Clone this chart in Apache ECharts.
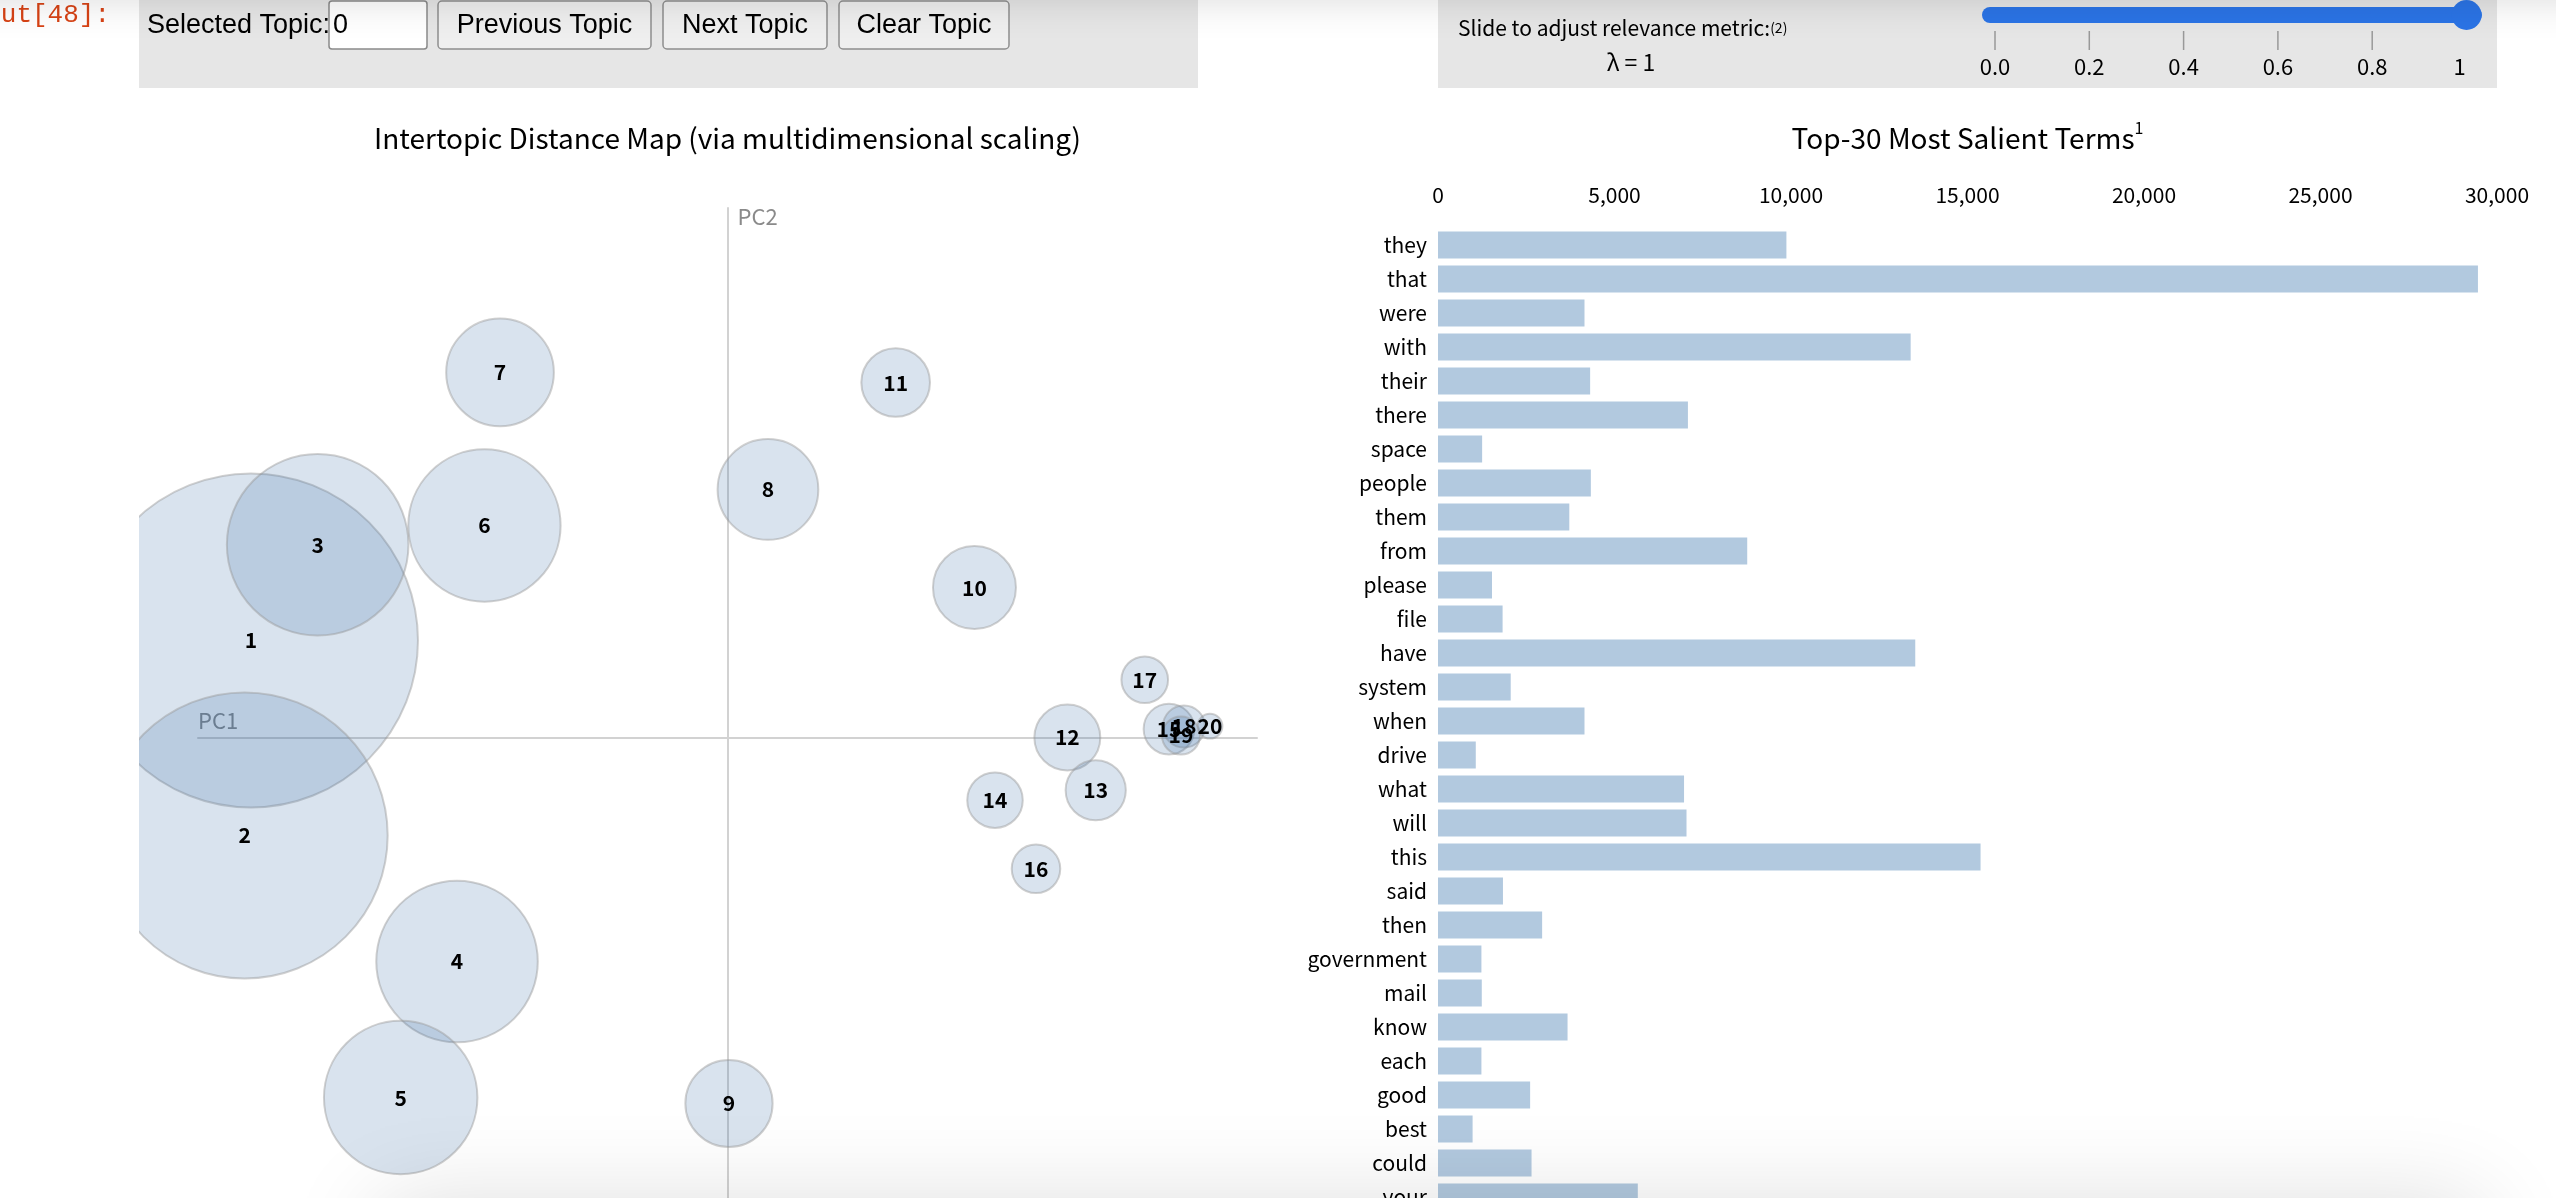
<!DOCTYPE html>
<html><head><meta charset="utf-8">
<script src="https://cdn.jsdelivr.net/npm/echarts@6/dist/echarts.min.js"></script>
<style>html,body{margin:0;padding:0;background:#fff;overflow:hidden}#c{width:2556px;height:1198px}</style>
</head><body><div id="c"></div><script>
// ---- data ----
const topicIds  = [1,2,3,4,5,6,7,8,9,10,11,12,13,14,15,16,17,18,19,20];
const topicPC1  = [-0.450,-0.456,-0.387,-0.2554,-0.3086,-0.2295,-0.2148,0.0382,0.0014,0.2332,0.1588,0.3209,0.3477,0.2526,0.4169,0.2913,0.3940,0.4310,0.4282,0.4556];
const topicPC2  = [0.0916,-0.0925,0.182,-0.2115,-0.340,0.2002,0.3447,0.2342,-0.3456,0.1416,0.3352,0.0,-0.0498,-0.0592,0.0080,-0.124,0.0545,0.0104,0.0019,0.0107];
const topicFreq = [30.8,22.6,9.1,7.2,6.5,6.4,3.2,2.8,2.1,1.9,1.3,1.2,1.0,0.85,0.71,0.65,0.60,0.49,0.40,0.17]; // % of tokens
const terms     = ['they','that','were','with','their','there','space','people','them','from','please','file','have','system','when','drive','what','will','this','said','then','government','mail','know','each','good','best','could','your'];
const termFreq  = [9870,29460,4150,13390,4310,7080,1250,4330,3720,8760,1530,1830,13520,2060,4150,1070,6970,7040,15370,1840,2950,1230,1240,3670,1230,2610,980,2650,5660];
const barTicks  = [0,5000,10000,15000,20000,25000,30000];
const sliderTicks = ['0.0','0.2','0.4','0.6','0.8','1'];
const buttonLabels = ['Previous Topic','Next Topic','Clear Topic'];

// ---- layout / style ----
const FONT = '"Noto Sans CJK KR","Noto Sans",sans-serif';
const UIFONT = '"Liberation Sans",Arial,sans-serif';
const MDS = {left:198, top:208, size:1059};
const BAR = {left:1438, top:228, width:1059, row:34};
const R_FULL = 0.2842 * MDS.size;
const BARCOL = '#b2c9df';
const BLUE = '#2b74e6';

const chart = echarts.init(document.getElementById('c'), null, {renderer:'canvas'});
const scatterData = topicIds.map((id,i)=>[topicPC1[i], topicPC2[i], topicFreq[i], id]);

const btnBoxes = [{x:438,w:213},{x:663,w:164},{x:839,w:170}];
const graphic = [];
// left control panel
graphic.push({type:'rect', z:1, shape:{x:139,y:0,width:1059,height:88}, style:{fill:'#e6e6e6'}});
graphic.push({type:'text', z:2, x:110, y:28, style:{text:'Out[48]:', font:'26px "Liberation Mono","DejaVu Sans Mono",monospace', fill:'#d84315', align:'right', textAlign:'right', verticalAlign:'bottom', textVerticalAlign:'bottom'}});
graphic.push({type:'text', z:2, x:147, y:26, style:{text:'Selected Topic:', font:'27px '+UIFONT, fill:'#000', verticalAlign:'middle', textVerticalAlign:'middle'}});
graphic.push({type:'rect', z:2, shape:{x:329,y:1,width:98,height:48,r:3}, style:{fill:'#fff', stroke:'#8a8a8a', lineWidth:1.5}});
graphic.push({type:'text', z:3, x:333, y:26, style:{text:'0', font:'27px '+UIFONT, fill:'#000', verticalAlign:'middle', textVerticalAlign:'middle'}});
buttonLabels.forEach((t,i)=>{
  const b = btnBoxes[i];
  graphic.push({type:'rect', z:2, shape:{x:b.x,y:1,width:b.w,height:48,r:4}, style:{fill:'#efefef', stroke:'#8f8f8f', lineWidth:1.5}});
  graphic.push({type:'text', z:3, x:b.x+b.w/2, y:26, style:{text:t, font:'27px '+UIFONT, fill:'#000', align:'center', textAlign:'center', verticalAlign:'middle', textVerticalAlign:'middle'}});
});
// right control panel
graphic.push({type:'rect', z:1, shape:{x:1438,y:0,width:1059,height:88}, style:{fill:'#e6e6e6'}});
graphic.push({type:'text', z:2, x:1458, y:28, style:{text:'{a|Slide to adjust relevance metric:}{b|(2)}', fill:'#000', verticalAlign:'middle', textVerticalAlign:'middle',
  rich:{a:{fontSize:21, fontFamily:FONT, fill:'#000', color:'#000'}, b:{fontSize:14, fontFamily:FONT, fill:'#000', color:'#000'}}}});
graphic.push({type:'text', z:2, x:1631, y:62, style:{text:'λ = 1', font:'23px '+FONT, fill:'#000', align:'center', textAlign:'center', verticalAlign:'middle', textVerticalAlign:'middle'}});
const sx = v => 1995 + v*471.5;
graphic.push({type:'rect', z:2, shape:{x:1982,y:7,width:500,height:16,r:8}, style:{fill:BLUE}});
graphic.push({type:'circle', z:3, shape:{cx:sx(1),cy:15,r:15}, style:{fill:BLUE}});
sliderTicks.forEach((t,i)=>{
  const v = i/5;
  if (i<5) graphic.push({type:'line', z:2, shape:{x1:sx(v),y1:31,x2:sx(v),y2:50}, style:{stroke:'#999', lineWidth:1.5}});
  graphic.push({type:'text', z:2, x: i<5 ? sx(v) : sx(v)-7, y:67, style:{text:t, font:'22px '+FONT, fill:'#000', align:'center', textAlign:'center', verticalAlign:'middle', textVerticalAlign:'middle'}});
});
// titles
graphic.push({type:'text', z:2, x:MDS.left+MDS.size/2, y:138, style:{text:'Intertopic Distance Map (via multidimensional scaling)', font:'28px '+FONT, fill:'#000', align:'center', textAlign:'center', verticalAlign:'middle', textVerticalAlign:'middle'}});
graphic.push({type:'text', z:2, x:BAR.left+BAR.width/2, y:138, style:{text:'{a|Top-30 Most Salient Terms}{s|1}', align:'center', textAlign:'center', verticalAlign:'middle', textVerticalAlign:'middle',
  rich:{a:{fontSize:28, fontFamily:FONT, fill:'#000', color:'#000', lineHeight:36}, s:{fontSize:16, fontFamily:FONT, fill:'#000', color:'#000', verticalAlign:'top', lineHeight:36}}}});
// axis names
graphic.push({type:'text', z:2, x:MDS.left, y:721, style:{text:'PC1', font:'22px '+FONT, fill:'#8a8a8a', verticalAlign:'middle', textVerticalAlign:'middle'}});
graphic.push({type:'text', z:2, x:MDS.left+MDS.size/2+10, y:217, style:{text:'PC2', font:'22px '+FONT, fill:'#8a8a8a', verticalAlign:'middle', textVerticalAlign:'middle'}});
// clip of the output area on the left
graphic.push({type:'rect', z:60, shape:{x:0,y:88,width:139,height:1110}, style:{fill:'#fff'}});
// scroll shadows
graphic.push({type:'rect', z:70, shape:{x:-200,y:-300,width:2956,height:298}, style:{fill:'#000', shadowBlur:40, shadowColor:'rgba(0,0,0,0.16)'}});
graphic.push({type:'rect', z:70, shape:{x:380,y:1204,width:2100,height:300}, style:{fill:'#000', shadowBlur:90, shadowColor:'rgba(0,0,0,0.14)'}});

const option = {
  animation:false,
  backgroundColor:'#fff',
  textStyle:{fontFamily:FONT},
  grid:[
    {left:MDS.left, top:MDS.top, width:MDS.size, height:MDS.size, containLabel:false, outerBoundsMode:'none'},
    {left:BAR.left, top:BAR.top, width:BAR.width, height:BAR.row*terms.length, containLabel:false, outerBoundsMode:'none'}
  ],
  xAxis:[
    {type:'value', gridIndex:0, min:-0.5, max:0.5, axisLine:{show:true, onZero:true, lineStyle:{color:'#d2d2d2', width:2}}, axisTick:{show:false}, axisLabel:{show:false}, splitLine:{show:false}},
    {type:'value', gridIndex:1, position:'top', min:barTicks[0], max:barTicks[barTicks.length-1], interval:barTicks[1]-barTicks[0],
      axisLine:{show:false}, axisTick:{show:false}, splitLine:{show:false},
      axisLabel:{fontSize:21, color:'#000', fontFamily:FONT, margin:22, formatter:v=>v.toLocaleString('en-US')}}
  ],
  yAxis:[
    {type:'value', gridIndex:0, min:-0.5, max:0.5, axisLine:{show:true, onZero:true, lineStyle:{color:'#d2d2d2', width:2}}, axisTick:{show:false}, axisLabel:{show:false}, splitLine:{show:false}},
    {type:'category', gridIndex:1, data:terms, inverse:true, axisLine:{show:false}, axisTick:{show:false}, splitLine:{show:false},
      axisLabel:{fontSize:21, color:'#000', fontFamily:FONT, margin:11}}
  ],
  series:[
    {type:'scatter', xAxisIndex:0, yAxisIndex:0, data:scatterData, clip:false,
      symbol:'circle', symbolSize:v=>2*R_FULL*Math.sqrt(v[2]/100),
      itemStyle:{color:'rgba(45,100,160,0.18)', borderColor:'rgba(150,150,150,0.45)', borderWidth:2, opacity:1},
      label:{show:true, position:'inside', formatter:p=>String(p.data[3]), fontSize:21, fontWeight:'bold', color:'#000', fontFamily:FONT},
      emphasis:{disabled:true}},
    {type:'bar', xAxisIndex:1, yAxisIndex:1, data:termFreq, barCategoryGap:'20%', itemStyle:{color:BARCOL}, emphasis:{disabled:true}}
  ],
  graphic:graphic
};
chart.setOption(option);
</script></body></html>
